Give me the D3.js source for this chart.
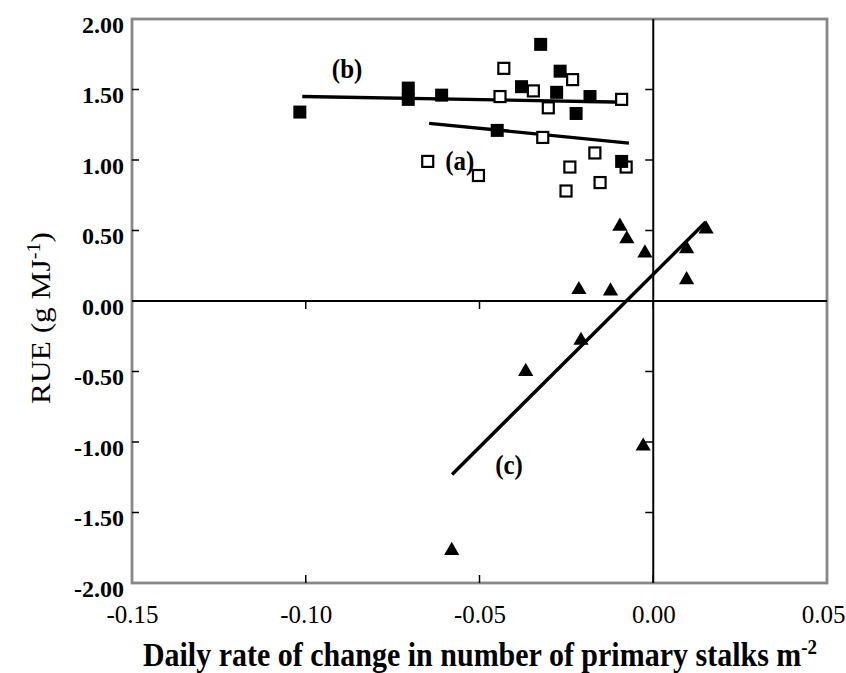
<!DOCTYPE html>
<html>
<head>
<meta charset="utf-8">
<script src="https://cdn.jsdelivr.net/npm/d3@7"></script>
<style>
  body { margin: 0; background: #fff; }
  svg text { font-family: "Liberation Serif", "Times New Roman", serif; fill: #000; }
</style>
</head>
<body>
<svg width="846" height="673"></svg>
<script>
// (a) open squares
var aX = [-0.0430, -0.0232, -0.0345, -0.0441, -0.0302, -0.0091, -0.0318, -0.0649, -0.0503, -0.0240, -0.0168, -0.0153, -0.0251, -0.0078];
var aY = [1.65, 1.57, 1.49, 1.45, 1.37, 1.43, 1.16, 0.99, 0.89, 0.95, 1.05, 0.84, 0.78, 0.95];
// (b) filled squares
var bX = [-0.1017, -0.0705, -0.0705, -0.0609, -0.0449, -0.0379, -0.0324, -0.0268, -0.0278, -0.0222, -0.0182, -0.0091];
var bY = [1.34, 1.51, 1.43, 1.46, 1.21, 1.52, 1.82, 1.63, 1.48, 1.33, 1.45, 0.99];
// (c) triangles
var cX = [-0.0096, -0.0076, -0.0024, 0.0152, 0.0096, 0.0096, -0.0214, -0.0123, -0.0208, -0.0367, -0.0029, -0.0580];
var cY = [0.53, 0.44, 0.34, 0.51, 0.37, 0.15, 0.08, 0.07, -0.28, -0.50, -1.03, -1.77];

// fitted lines (start, end)
var lineAX = [-0.0645, -0.0070], lineAY = [1.26, 1.12];
var lineBX = [-0.1010, -0.0074], lineBY = [1.45, 1.41];
var lineCX = [-0.0579, 0.0151], lineCY = [-1.23, 0.56];

var xTicks = [-0.15, -0.10, -0.05, 0.00, 0.05];
var yTicks = [2.0, 1.5, 1.0, 0.5, 0.0, -0.5, -1.0, -1.5, -2.0];

var pLeft = 132, pRight = 827, pTop = 19, pBottom = 583;

var svg = d3.select("svg");

var x = d3.scaleLinear().domain([-0.15, 0.05]).range([pLeft, pRight]);
var y = d3.scaleLinear().domain([-2, 2]).range([pBottom, pTop]);

var fmt = function(d){ return d3.format(".2f")(d).replace("\u2212", "-"); };

// frame
svg.append("rect")
   .attr("x", pLeft).attr("y", pTop)
   .attr("width", pRight - pLeft).attr("height", pBottom - pTop)
   .attr("fill", "none").attr("stroke", "#888").attr("stroke-width", 2.8);

// inner axes through zero
svg.append("line")
   .attr("x1", x(0)).attr("x2", x(0)).attr("y1", pTop).attr("y2", pBottom)
   .attr("stroke", "#000").attr("stroke-width", 2);
svg.append("line")
   .attr("x1", pLeft).attr("x2", pRight).attr("y1", y(0)).attr("y2", y(0))
   .attr("stroke", "#000").attr("stroke-width", 2);

// tick labels via d3 axes
var yAxis = svg.append("g")
   .attr("transform", "translate(" + pLeft + ",0)")
   .call(d3.axisLeft(y).tickValues(yTicks).tickSize(0).tickPadding(8)
     .tickFormat(fmt));
yAxis.select(".domain").remove();
yAxis.selectAll("text")
   .attr("dy", "0.55em")
   .style("font-family", "Liberation Serif").style("font-size", "24px")
   .style("font-weight", "bold");

var xAxis = svg.append("g")
   .attr("transform", "translate(0," + pBottom + ")")
   .call(d3.axisBottom(x).tickValues(xTicks).tickSize(0).tickPadding(22)
     .tickFormat(fmt));
xAxis.select(".domain").remove();
xAxis.selectAll("text")
   .style("font-family", "Liberation Serif").style("font-size", "25px");
// last label sits against the page edge
xAxis.selectAll("text").filter(function(d){ return d === 0.05; })
   .attr("text-anchor", "end").attr("x", 18);

// tick marks
var inner = yTicks.slice(1, -1);
svg.selectAll(".ytl").data(inner).enter().append("line")
   .attr("x1", pLeft).attr("x2", pLeft + 7)
   .attr("y1", function(d){ return y(d); }).attr("y2", function(d){ return y(d); })
   .attr("stroke", "#000").attr("stroke-width", 1.5);
svg.selectAll(".ytz").data(inner).enter().append("line")
   .attr("x1", x(0) - 8).attr("x2", x(0))
   .attr("y1", function(d){ return y(d); }).attr("y2", function(d){ return y(d); })
   .attr("stroke", "#000").attr("stroke-width", 1.5);
var innerX = xTicks.slice(1, -1);
svg.selectAll(".xtb").data(innerX).enter().append("line")
   .attr("x1", function(d){ return x(d); }).attr("x2", function(d){ return x(d); })
   .attr("y1", pBottom - 8).attr("y2", pBottom)
   .attr("stroke", "#000").attr("stroke-width", 1.5);
svg.selectAll(".xtz").data(innerX).enter().append("line")
   .attr("x1", function(d){ return x(d); }).attr("x2", function(d){ return x(d); })
   .attr("y1", y(0)).attr("y2", y(0) + 8)
   .attr("stroke", "#000").attr("stroke-width", 1.5);

// fitted lines
var fits = [[lineAX, lineAY], [lineBX, lineBY], [lineCX, lineCY]];
fits.forEach(function(f){
  svg.append("line")
     .attr("x1", x(f[0][0])).attr("y1", y(f[1][0]))
     .attr("x2", x(f[0][1])).attr("y2", y(f[1][1]))
     .attr("stroke", "#000").attr("stroke-width", 3.4);
});

// open squares
svg.selectAll(".sqA").data(aX).enter().append("rect")
   .attr("x", function(d){ return x(d) - 5.5; })
   .attr("y", function(d, i){ return y(aY[i]) - 5.5; })
   .attr("width", 11).attr("height", 11)
   .attr("fill", "#fff").attr("stroke", "#000").attr("stroke-width", 2.2);

// filled squares
svg.selectAll(".sqB").data(bX).enter().append("rect")
   .attr("x", function(d){ return x(d) - 6.5; })
   .attr("y", function(d, i){ return y(bY[i]) - 6.5; })
   .attr("width", 13).attr("height", 13)
   .attr("fill", "#000");

// triangles
var tri = d3.symbol().type(d3.symbolTriangle).size(100);
svg.selectAll(".triC").data(cX).enter().append("path")
   .attr("d", tri)
   .attr("transform", function(d, i){ return "translate(" + x(d) + "," + y(cY[i]) + ")"; })
   .attr("fill", "#000");

// series labels
var labels = [["(b)", -0.0881, 1.58], ["(a)", -0.0557, 0.93], ["(c)", -0.0415, -1.23]];
svg.selectAll(".lab").data(labels).enter().append("text")
   .attr("transform", function(d){ return "translate(" + x(d[1]) + "," + y(d[2]) + ") scale(1,1.1)"; })
   .attr("text-anchor", "middle")
   .style("font-size", "25px").style("font-weight", "bold")
   .text(function(d){ return d[0]; });

// axis titles
var xt = svg.append("text")
   .attr("transform", "translate(480,666) scale(1,1.12)")
   .attr("text-anchor", "middle")
   .style("font-size", "30px").style("font-weight", "bold");
xt.append("tspan").text("Daily rate of change in number of primary stalks m");
xt.append("tspan").attr("dy", -11).style("font-size", "19px").text("-2");

var yt = svg.append("text")
   .attr("transform", "translate(50,318) rotate(-90) scale(1.12,1)")
   .attr("text-anchor", "middle")
   .style("font-size", "28px");
yt.append("tspan").text("RUE (g MJ");
yt.append("tspan").attr("dy", -10).style("font-size", "18px").text("-1");
yt.append("tspan").attr("dy", 10).text(")");
</script>
</body>
</html>
